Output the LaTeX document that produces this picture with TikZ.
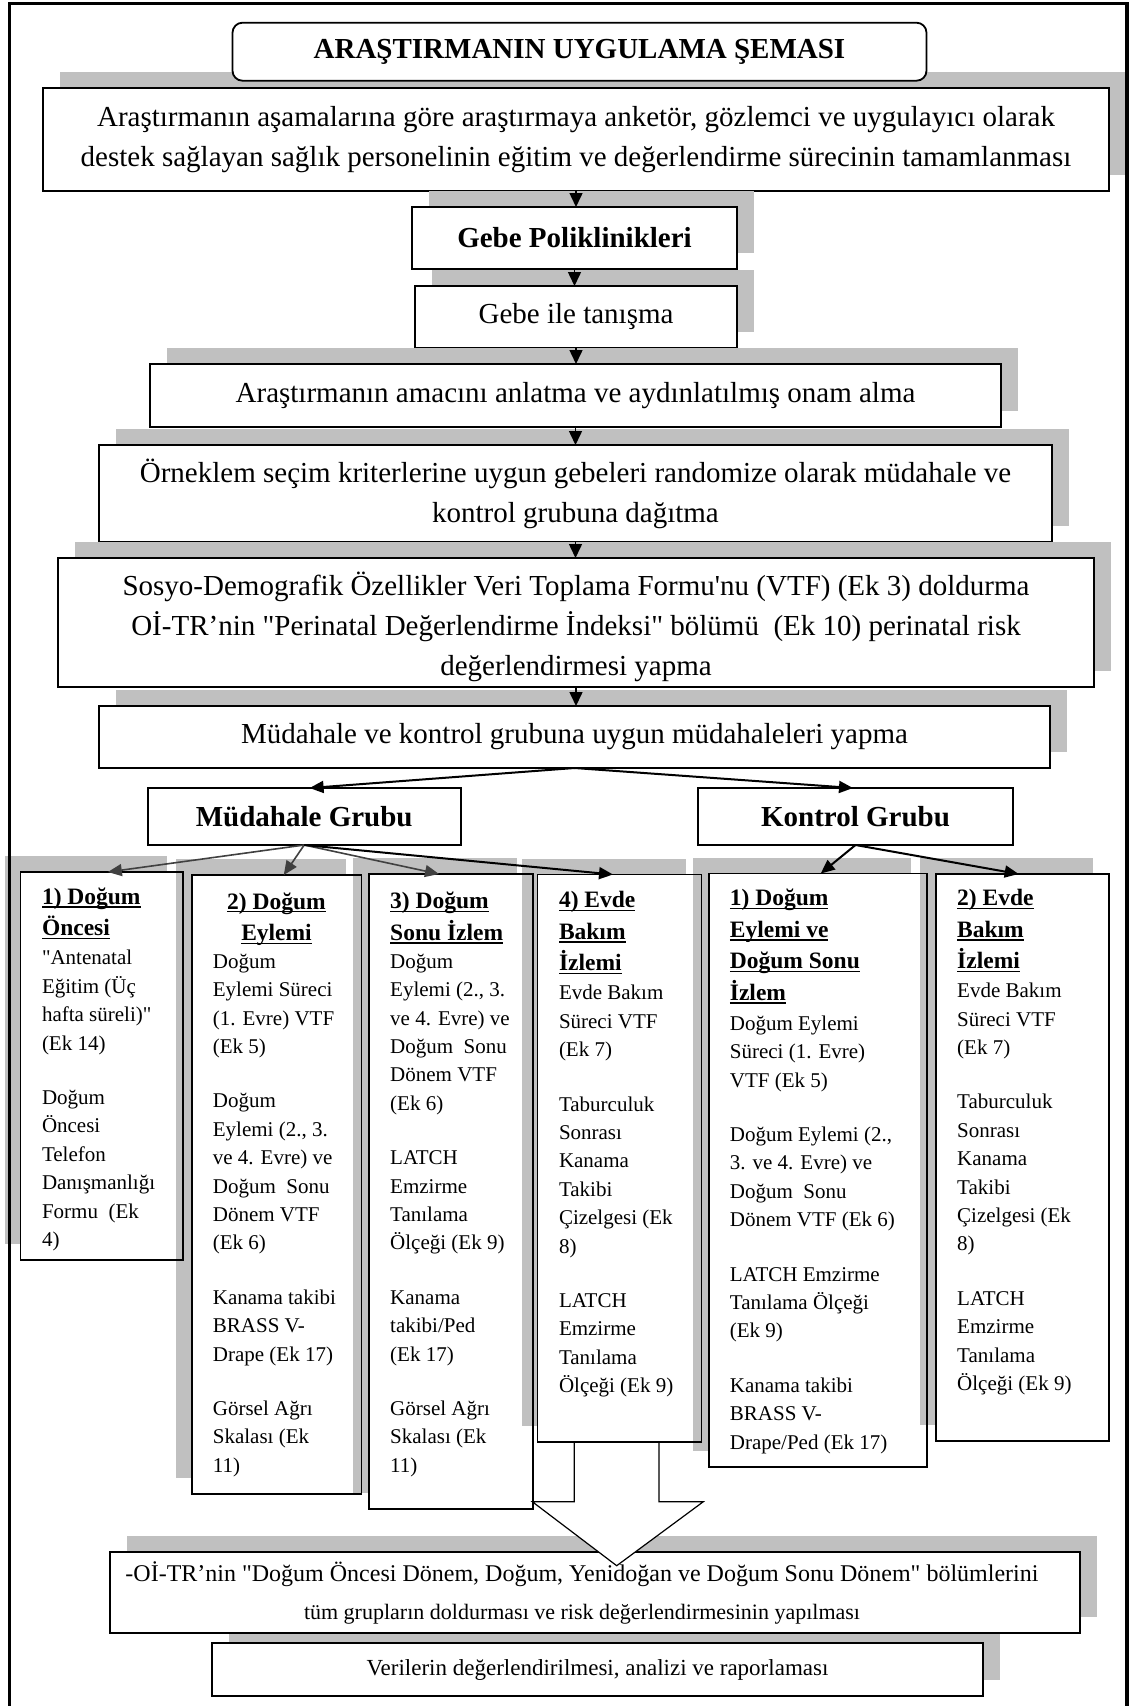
\documentclass[tikz,border=0pt]{standalone}
\usepackage{fontspec}
\setmainfont{Liberation Serif}[Ligatures=TeXOff]
\usetikzlibrary{arrows.meta,shadows}
\definecolor{shadegray}{RGB}{192,192,192}
\definecolor{arrgray}{RGB}{64,64,64}
\newsavebox{\hulbox}
\newcommand{\hul}[1]{\sbox\hulbox{#1}\rlap{\rule[-3.4pt]{\wd\hulbox}{1.4pt}}\usebox\hulbox}
\newcommand{\fst}{\rule{0pt}{18pt}}
\begin{document}
\begin{tikzpicture}[x=1pt,y=-1pt,
  mainbox/.style={draw, line width=1.6pt, fill=white, inner sep=0pt, outer sep=0pt, align=center, font=\fontsize{29}{40}\selectfont},
  upshadow/.style={drop shadow={shadow xshift=17pt,shadow yshift=16pt,fill=shadegray,opacity=1}},
  lowshadow/.style={drop shadow={shadow xshift=-16pt,shadow yshift=16pt,fill=shadegray,opacity=1}},
  lowbox/.style={draw, line width=1.3pt, fill=white, inner sep=0pt, outer sep=0pt},
  lowhead/.style={anchor=north west, inner sep=0pt, align=left, font=\fontsize{23.5}{31.5}\selectfont\bfseries},
  lowbody/.style={anchor=north west, inner sep=0pt, align=left, font=\fontsize{21}{28.4}\selectfont},
  mainarrow/.style={line width=1.5pt, -{Triangle[length=14pt,width=13pt]}},
  grayarrow/.style={line width=1.6pt, draw=arrgray, -{Triangle[length=14pt,width=12pt]}, arrgray},
  blackarrow/.style={line width=2pt, -{Triangle[length=14pt,width=12pt]}},
  bigarrow/.style={draw, fill=white, line width=1.2pt, line join=miter}
]
\useasboundingbox (0,0) rectangle (1129,1706);

% ---------- main column ----------
\node[mainbox, upshadow, minimum width=1066pt, minimum height=103pt] (A) at (576,139.5)
  {Araştırmanın aşamalarına göre araştırmaya anketör, gözlemci ve uygulayıcı olarak\\destek sağlayan sağlık personelinin eğitim ve değerlendirme sürecinin tamamlanması};
\node[mainbox, rounded corners=10pt, line width=1.8pt, minimum width=694pt, minimum height=58pt, font=\fontsize{29}{40}\selectfont\bfseries] (T) at (579.5,51.7)
  {ARAŞTIRMANIN UYGULAMA ŞEMASI};
\node[mainbox, upshadow, minimum width=325pt, minimum height=62pt, font=\fontsize{29}{40}\selectfont\bfseries] (GP) at (574.5,238) {Gebe Poliklinikleri};
\node[mainbox, upshadow, minimum width=322pt, minimum height=62pt] (GT) at (576,317) {Gebe ile tanışma};
\node[mainbox, upshadow, minimum width=851pt, minimum height=63pt] (AM) at (575.5,395.5) {Araştırmanın amacını anlatma ve aydınlatılmış onam alma};
\node[mainbox, upshadow, minimum width=953pt, minimum height=97pt] (OR) at (575.5,493.5)
  {Örneklem seçim kriterlerine uygun gebeleri randomize olarak müdahale ve\\kontrol grubuna dağıtma};
\node[mainbox, upshadow, minimum width=1036pt, minimum height=129pt] (SO) at (576,622.5) {};
\node[inner sep=0pt, align=center, font=\fontsize{29}{40}\selectfont] (SOt) at (576,626.7)
  {Sosyo-Demografik Özellikler Veri Toplama Formu'nu (VTF) (Ek 3) doldurma\\Oİ-TR’nin "Perinatal Değerlendirme İndeksi" bölümü\ \ (Ek 10) perinatal risk\\değerlendirmesi yapma};
\node[mainbox, upshadow, minimum width=951pt, minimum height=62pt] (MK) at (574.5,737) {Müdahale ve kontrol grubuna uygun müdahaleleri yapma};
\node[mainbox, minimum width=313pt, minimum height=57pt, font=\fontsize{29}{40}\selectfont\bfseries] (MG) at (304.2,816.5) {Müdahale Grubu};
\node[mainbox, minimum width=315pt, minimum height=57pt, font=\fontsize{29}{40}\selectfont\bfseries] (KG) at (855.5,816.5) {Kontrol Grubu};

\draw[mainarrow] (A.south) -- (A.south |- GP.north);
\draw[mainarrow] (GP.south) -- (GP.south |- GT.north);
\draw[mainarrow] (GT.south) -- (GT.south |- AM.north);
\draw[mainarrow] (AM.south) -- (AM.south |- OR.north);
\draw[mainarrow] (OR.south) -- (OR.south |- SO.north);
\draw[mainarrow] (SO.south) -- (SO.south |- MK.north);
\draw[blackarrow] (MK.south) -- ([xshift=5.4pt]MG.north);
\draw[blackarrow] (MK.south) -- ([xshift=-2.5pt]KG.north);

% ---------- lower boxes ----------
\node[lowbox, lowshadow, minimum width=162.3pt, minimum height=388pt] (b1) at (101.85,1066) {};
\node[lowbox, lowshadow, minimum width=169.5pt, minimum height=619pt] (b2) at (276.75,1184.5) {};
\node[lowbox, lowshadow, minimum width=164pt, minimum height=635pt] (b3) at (451,1191.5) {};
\node[lowbox, lowshadow, minimum width=164.2pt, minimum height=567.5pt] (b4) at (619.6,1158.25) {};
\node[lowbox, lowshadow, minimum width=218pt, minimum height=593.5pt] (b5) at (818,1170.25) {};
\node[lowbox, lowshadow, minimum width=173pt, minimum height=567pt] (b6) at (1022.5,1157.5) {};
\foreach \n in {b1,b2,b3,b4,b5,b6} \draw[line width=1.3pt] (\n.north west) rectangle (\n.south east);

\draw[grayarrow] (MG.south) -- ([xshift=6pt]b1.north);
\draw[grayarrow] (MG.south) -- ([xshift=7pt]b2.north);
\draw[grayarrow] (MG.south) -- ([xshift=-12pt]b3.north);
\draw[blackarrow] (MG.south) -- ([xshift=-6.6pt]b4.north);
\draw[blackarrow] (KG.south) -- ([xshift=2.7pt]b5.north);
\draw[blackarrow] (KG.south) -- ([xshift=-3.8pt]b6.north);

% texts of lower boxes
\node[lowhead] (b1h) at (41.8,886.2) {\fst\hul{1) Doğum}\\\hul{Öncesi}};
\node[lowbody] (b1t) at (41.8,946.7) {\fst"Antenatal\\Eğitim (Üç\\hafta süreli)"\\(Ek 14)\\[26pt]Doğum\\Öncesi\\Telefon\\Danışmanlığı\\Formu\ \ (Ek\\4)};

\node[lowhead, anchor=north, align=center] (b2h) at (276.5,890.8) {\fst\hul{2) Doğum}\\\hul{Eylemi}};
\node[lowbody] (b2t) at (212.7,950) {\fst Doğum\\Eylemi Süreci\\(1. Evre) VTF\\(Ek 5)\\[26pt]Doğum\\Eylemi (2., 3.\\ve 4. Evre) ve\\Doğum\ \ Sonu\\Dönem VTF\\(Ek 6)\\[26pt]Kanama takibi\\BRASS V-\\Drape (Ek 17)\\[26pt]Görsel Ağrı\\Skalası (Ek\\11)};

\node[lowhead] (b3h) at (390,890.5) {\fst\hul{3) Doğum}\\\hul{Sonu İzlem}};
\node[lowbody] (b3t) at (390,950) {\fst Doğum\\Eylemi (2., 3.\\ve 4. Evre) ve\\Doğum\ \ Sonu\\Dönem VTF\\(Ek 6)\\[26pt]LATCH\\Emzirme\\Tanılama\\Ölçeği (Ek 9)\\[26pt]Kanama\\takibi/Ped\\(Ek 17)\\[26pt]Görsel Ağrı\\Skalası (Ek\\11)};

\node[lowhead] (b4h) at (558.8,889.5) {\fst\hul{4) Evde}\\\hul{Bakım}\\\hul{İzlemi}};
\node[lowbody] (b4t) at (558.8,981.6) {\fst Evde Bakım\\Süreci VTF\\(Ek 7)\\[26pt]Taburculuk\\Sonrası\\Kanama\\Takibi\\Çizelgesi (Ek\\8)\\[26pt]LATCH\\Emzirme\\Tanılama\\Ölçeği (Ek 9)};

\node[lowhead] (b5h) at (729.7,887.5) {\fst\hul{1) Doğum}\\\hul{Eylemi ve}\\\hul{Doğum Sonu}\\\hul{İzlem}};
\node[lowbody] (b5t) at (729.7,1012) {\fst Doğum Eylemi\\Süreci (1. Evre)\\VTF (Ek 5)\\[26pt]Doğum Eylemi (2.,\\3. ve 4. Evre) ve\\Doğum\ \ Sonu\\Dönem VTF (Ek 6)\\[26pt]LATCH Emzirme\\Tanılama Ölçeği\\(Ek 9)\\[26pt]Kanama takibi\\BRASS V-\\Drape/Ped (Ek 17)};

\node[lowhead] (b6h) at (957,887.5) {\fst\hul{2) Evde}\\\hul{Bakım}\\\hul{İzlemi}};
\node[lowbody] (b6t) at (957,979.5) {\fst Evde Bakım\\Süreci VTF\\(Ek 7)\\[26pt]Taburculuk\\Sonrası\\Kanama\\Takibi\\Çizelgesi (Ek\\8)\\[26pt]LATCH\\Emzirme\\Tanılama\\Ölçeği (Ek 9)};

% ---------- bottom boxes ----------
\node[mainbox, upshadow, line width=1.5pt, minimum width=771pt, minimum height=53pt, font=\fontsize{23}{30}\selectfont] (C2) at (597.5,1669.5)
  {Verilerin değerlendirilmesi, analizi ve raporlaması};
\node[mainbox, upshadow, line width=1.5pt, minimum width=970pt, minimum height=81pt] (C1) at (595,1592.5) {};
\node[inner sep=0pt, align=center, font=\fontsize{24}{38}\selectfont] (C1t) at (582,1592.5)
  {-Oİ-TR’nin "Doğum Öncesi Dönem, Doğum, Yenidoğan ve Doğum Sonu Dönem" bölümlerini\\{\fontsize{22}{38}\selectfont tüm grupların doldurması ve risk değerlendirmesinin yapılması}};

% big block arrow
\draw[bigarrow] (574.3,1443) -- (574.3,1501.7) -- (532.3,1501.7) -- (616.7,1565.7) -- (703.3,1501.7) -- (659,1501.7) -- (659,1443);

% outer frame
\draw[line width=3.6pt] (9.3,1706) -- (9.3,3.3) -- (1126.7,3.3) -- (1126.7,1706);
\end{tikzpicture}
\end{document}
